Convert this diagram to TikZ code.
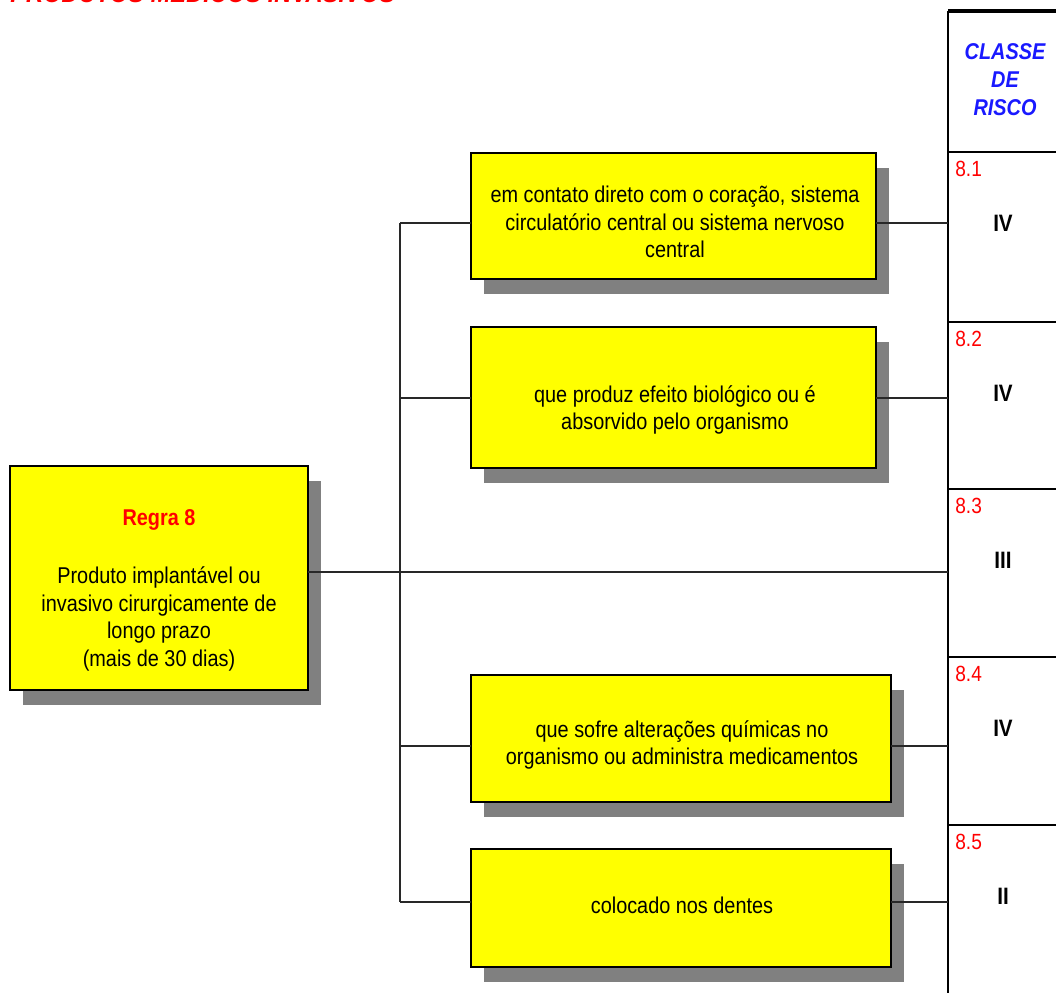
\documentclass[tikz,border=0pt]{standalone}
\usepackage{fontspec}
\setmainfont{Liberation Sans}[FakeStretch=0.87]
\usetikzlibrary{shadows}

\definecolor{boxyellow}{RGB}{255,255,0}
\definecolor{shade}{RGB}{128,128,128}
\definecolor{wirecol}{RGB}{40,40,40}
\definecolor{rulered}{RGB}{255,0,0}
\definecolor{classblue}{RGB}{25,25,255}

\begin{document}
\begin{tikzpicture}[x=0.02cm, y=-0.02cm,
  box/.style={draw=black, line width=0.9pt, fill=boxyellow,
    general shadow={fill=shade, shadow xshift=0.26cm, shadow yshift=-0.3cm},
    inner sep=0pt, outer sep=0pt, anchor=north west},
  txt/.style={align=center, inner sep=0pt, font=\fontsize{13}{15.6}\selectfont},
  wire/.style={draw=wirecol, line width=0.8pt},
  rowsep/.style={draw=black, line width=1.6pt},
  rowno/.style={anchor=base west, inner sep=0pt, text=rulered, font=\fontsize{12.5}{15}\selectfont},
  grade/.style={inner sep=0pt, font=\fontsize{13.5}{16}\selectfont\bfseries}]

\useasboundingbox (0,0) rectangle (1056,992);
\clip (0,0) rectangle (1056,992);

% heading, running off the top edge of the page
\node[anchor=base west, inner sep=0pt, text=rulered,
      font=\fontsize{15.5}{18}\selectfont\bfseries\itshape] (title) at (10,2.5)
      {PRODUTOS MÉDICOS INVASIVOS};

% risk-class column
\coordinate (colTop) at (948,11);
\coordinate (colBot) at (948,1000);
\coordinate (colTopR) at (1060,11);
\draw[line width=1.1pt] (colTop) -- (colBot);
\draw[line width=2.2pt] (colTop) -- (colTopR);
\node[txt, text=classblue, font=\fontsize{13}{15.9}\selectfont\bfseries\itshape] (head) at (1005,80)
  {CLASSE\\DE\\RISCO};
\foreach \r/\n/\g in {152/8.1/IV, 322/8.2/IV, 489/8.3/III, 657/8.4/IV, 825/8.5/II}{
  \draw[rowsep] (948,\r) -- (1060,\r);
  \node[rowno] (no\n) at (955,\r+24) {\n};
  \node[grade] (cl\n) at (1003,\r+71) {\g};
}

% boxes
\node[box, minimum width=5.96cm, minimum height=4.48cm] (main) at (10,466) {};
\node[box, minimum width=8.1cm, minimum height=2.52cm] (b1) at (471,153) {};
\node[box, minimum width=8.1cm, minimum height=2.82cm] (b2) at (471,327) {};
\node[box, minimum width=8.4cm, minimum height=2.54cm] (b4) at (471,675) {};
\node[box, minimum width=8.4cm, minimum height=2.36cm] (b5) at (471,849) {};

% box texts
\node[txt, text=rulered, font=\fontsize{13}{15.6}\selectfont\bfseries] (mainHead) at (159,520) {Regra 8};
\node[txt] (mainText) at (159,619)
  {Produto implantável ou\\invasivo cirurgicamente de\\longo prazo\\(mais de 30 dias)};
\node[txt] (t1) at (675,222)
  {em contato direto com o coração, sistema\\circulatório central ou sistema nervoso\\central};
\node[txt] (t2) at (675,410)
  {que produz efeito biológico ou é\\absorvido pelo organismo};
\node[txt] (t4) at (682,745)
  {que sofre alterações químicas no\\organismo ou administra medicamentos};
\node[txt] (t5) at (682,905) {colocado nos dentes};

% connectors
\coordinate (j1) at (400,223);
\coordinate (j2) at (400,398);
\coordinate (j4) at (400,746);
\coordinate (j5) at (400,902);
\coordinate (c1) at (948,223);
\coordinate (c2) at (948,398);
\coordinate (c3) at (948,572);
\coordinate (c4) at (948,746);
\coordinate (c5) at (948,902);

\draw[wire] (j1) -- (j5);
\draw[wire] (main.east |- c3) -- (c3);
\draw[wire] (j1) -- (j1 -| b1.west);
\draw[wire] (j2) -- (j2 -| b2.west);
\draw[wire] (j4) -- (j4 -| b4.west);
\draw[wire] (j5) -- (j5 -| b5.west);
\draw[wire] (b1.east |- c1) -- (c1);
\draw[wire] (b2.east |- c2) -- (c2);
\draw[wire] (b4.east |- c4) -- (c4);
\draw[wire] (b5.east |- c5) -- (c5);
\end{tikzpicture}
\end{document}
